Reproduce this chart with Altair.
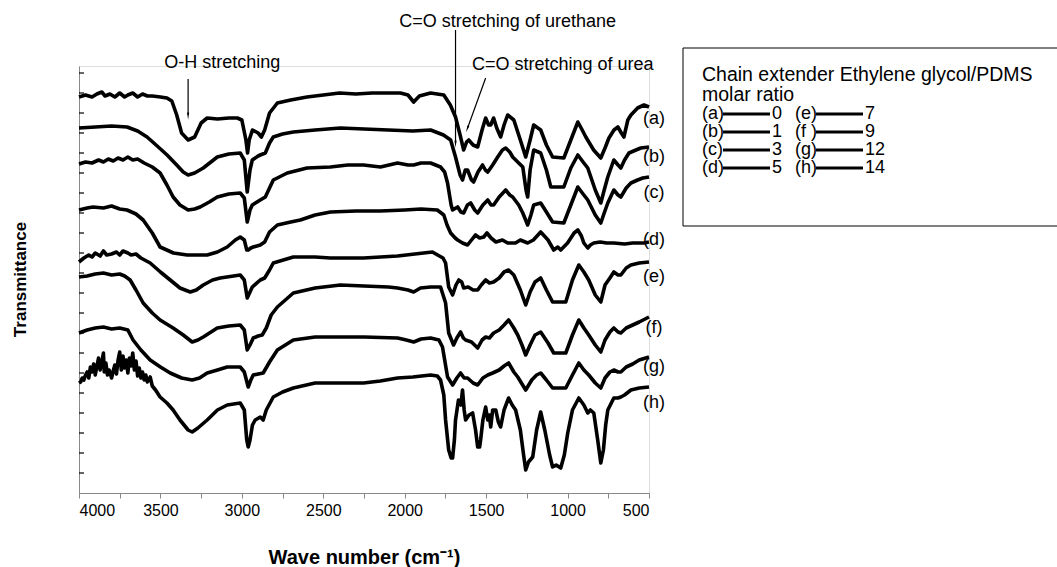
import altair as alt
import pandas as pd

# ---------------- data (wavenumber cm-1, transmittance in arbitrary offset units) ----------------
a_pts = [(4000,396),(3960,398),(3920,396),(3890,399),(3860,401),(3840,397),(3810,399),(3780,396),(3750,400),(3720,396),(3700,398),(3670,400),(3640,396),(3610,399),(3580,397),(3550,397),(3500,396),(3460,395),(3430,392),(3400,378),(3370,360),(3330,353),(3290,356),(3250,370),(3213,375),(3150,374),(3080,375),(3028,375),(3000,373),(2975,353),(2965,340),(2955,353),(2935,363),(2900,360),(2880,356),(2860,363),(2830,380),(2782,390),(2700,393),(2600,396),(2500,398),(2400,400),(2300,399),(2200,400),(2100,400),(2026,400),(1980,398),(1945,391),(1910,397),(1841,400),(1760,398),(1720,388),(1688,376),(1660,358),(1638,343),(1620,351),(1607,353),(1580,348),(1552,346),(1525,363),(1503,375),(1485,368),(1472,368),(1454,375),(1435,365),(1411,356),(1390,368),(1368,378),(1330,373),(1290,353),(1257,336),(1230,353),(1208,368),(1165,363),(1130,348),(1092,336),(1023,335),(980,353),(937,371),(910,363),(888,356),(840,343),(796,335),(770,345),(746,355),(715,363),(691,366),(670,360),(654,356),(630,373),(611,378),(570,385),(531,388),(500,386)]
b_pts = [(4000,365),(3900,366),(3800,367),(3705,366),(3640,362),(3582,356),(3520,347),(3459,338),(3400,328),(3360,321),(3330,318),(3290,320),(3237,325),(3151,336),(3080,339),(3010,340),(2985,333),(2967,301),(2950,323),(2936,333),(2900,337),(2887,338),(2856,340),(2830,350),(2807,356),(2750,359),(2684,361),(2550,363),(2395,365),(2250,364),(2100,363),(1950,362),(1841,363),(1762,358),(1718,353),(1688,336),(1660,318),(1645,313),(1628,323),(1614,323),(1590,313),(1577,311),(1550,321),(1522,328),(1505,323),(1490,321),(1460,328),(1429,336),(1400,343),(1380,345),(1355,341),(1337,336),(1300,330),(1275,326),(1255,303),(1245,296),(1230,323),(1208,343),(1165,340),(1130,323),(1103,306),(1023,306),(980,325),(937,338),(900,330),(876,325),(830,303),(796,290),(775,303),(753,316),(716,333),(690,328),(673,325),(650,333),(623,340),(580,343),(550,345),(500,346)]
c_pts = [(4000,329),(3960,331),(3920,330),(3880,333),(3850,331),(3820,334),(3790,332),(3760,335),(3730,333),(3700,336),(3670,333),(3640,334),(3600,330),(3550,326),(3502,320),(3460,308),(3422,296),(3380,288),(3330,283),(3290,284),(3256,286),(3200,291),(3151,296),(3080,299),(3010,300),(2985,295),(2967,271),(2950,283),(2936,288),(2887,293),(2856,296),(2830,305),(2807,313),(2721,320),(2600,325),(2456,326),(2350,328),(2253,328),(2149,326),(2044,330),(1980,328),(1945,328),(1900,330),(1841,330),(1780,326),(1755,321),(1737,310),(1715,288),(1706,283),(1675,286),(1655,281),(1638,280),(1615,288),(1595,290),(1570,283),(1552,280),(1520,288),(1490,293),(1470,288),(1454,288),(1420,296),(1380,303),(1355,298),(1337,296),(1300,288),(1275,280),(1245,268),(1225,278),(1208,288),(1165,290),(1130,281),(1092,271),(1023,270),(980,288),(937,306),(900,298),(876,293),(830,278),(796,270),(775,280),(753,290),(716,303),(690,298),(673,296),(640,305),(611,310),(570,313),(538,315),(500,316)]
d_pts = [(4000,283),(3950,285),(3914,286),(3850,285),(3800,287),(3750,284),(3705,283),(3650,279),(3606,273),(3550,260),(3502,246),(3420,240),(3336,238),(3213,238),(3150,241),(3090,246),(3040,253),(3010,256),(2985,253),(2970,243),(2961,243),(2945,245),(2930,246),(2887,248),(2860,251),(2830,261),(2782,268),(2700,271),(2641,273),(2550,278),(2456,281),(2300,282),(2150,282),(2000,283),(1900,284),(1800,283),(1760,278),(1740,268),(1718,260),(1690,255),(1675,253),(1645,250),(1614,248),(1590,253),(1565,258),(1540,255),(1515,256),(1495,260),(1470,255),(1440,251),(1400,253),(1368,250),(1320,250),(1290,253),(1245,250),(1210,253),(1165,261),(1120,253),(1085,243),(1060,246),(1042,243),(1000,250),(960,260),(937,263),(915,257),(900,250),(876,245),(860,248),(839,250),(800,251),(760,250),(716,250),(650,249),(600,250),(531,250),(500,251)]
e_pts = [(4000,231),(3970,235),(3940,238),(3920,236),(3900,240),(3870,237),(3850,242),(3830,238),(3800,239),(3770,241),(3750,238),(3730,242),(3700,240),(3680,238),(3650,239),(3620,235),(3563,230),(3500,221),(3440,213),(3380,205),(3317,201),(3280,203),(3237,208),(3180,213),(3133,215),(3010,218),(2985,213),(2967,195),(2950,201),(2936,206),(2887,213),(2860,215),(2830,223),(2807,230),(2684,236),(2550,236),(2456,235),(2253,235),(2044,237),(1884,240),(1830,241),(1798,238),(1765,235),(1749,230),(1730,206),(1706,198),(1685,208),(1668,213),(1650,211),(1638,205),(1610,206),(1580,203),(1552,203),(1530,208),(1503,213),(1480,210),(1454,211),(1420,215),(1390,221),(1362,223),(1330,218),(1290,203),(1257,188),(1230,201),(1200,211),(1165,215),(1130,203),(1092,191),(1011,191),(970,213),(931,228),(900,221),(870,213),(830,198),(796,191),(770,208),(740,215),(716,221),(690,218),(673,218),(640,225),(611,228),(560,230),(500,231)]
f_pts = [(4000,216),(3950,217),(3900,219),(3850,220),(3800,218),(3750,219),(3720,217),(3686,213),(3650,203),(3606,190),(3550,180),(3502,173),(3422,165),(3360,158),(3305,151),(3270,153),(3237,156),(3151,165),(3080,167),(3010,168),(2985,163),(2967,143),(2950,148),(2930,155),(2900,157),(2875,158),(2850,165),(2820,178),(2782,186),(2684,200),(2550,205),(2395,208),(2250,207),(2100,206),(2044,205),(1980,203),(1945,201),(1903,205),(1841,206),(1780,206),(1749,190),(1730,160),(1700,148),(1680,155),(1657,161),(1640,155),(1626,153),(1590,151),(1552,145),(1525,153),(1503,156),(1480,155),(1454,160),(1420,163),(1390,168),(1362,173),(1330,165),(1306,158),(1280,148),(1257,138),(1230,148),(1200,158),(1165,161),(1120,150),(1085,140),(1011,140),(970,158),(931,173),(900,165),(870,158),(830,148),(796,141),(770,153),(740,161),(716,165),(690,161),(673,160),(640,165),(600,168),(560,171),(500,176)]
g_pts = [(4000,160),(3950,163),(3900,165),(3850,166),(3800,164),(3750,165),(3700,163),(3668,153),(3620,143),(3563,133),(3500,126),(3440,120),(3370,115),(3305,113),(3260,115),(3213,120),(3150,123),(3090,126),(3010,126),(2985,121),(2961,106),(2945,113),(2930,118),(2869,120),(2830,131),(2782,143),(2684,153),(2550,156),(2456,156),(2250,156),(2044,155),(1990,153),(1945,151),(1900,154),(1841,155),(1790,153),(1768,146),(1737,116),(1706,108),(1680,115),(1657,120),(1635,115),(1614,115),(1580,110),(1552,108),(1520,115),(1490,118),(1460,120),(1420,123),(1390,127),(1362,130),(1330,121),(1306,116),(1257,103),(1220,113),(1190,118),(1165,120),(1130,113),(1092,105),(1011,105),(970,118),(931,130),(900,123),(870,118),(830,110),(796,105),(770,115),(740,121),(716,123),(690,121),(673,121),(640,126),(600,129),(560,133),(500,136)]
h_pts = [(4000,110),(3990,111),(3980,115),(3970,113),(3960,118),(3950,121),(3940,115),(3930,126),(3920,121),(3910,129),(3900,118),(3890,127),(3880,135),(3870,123),(3860,131),(3850,140),(3845,121),(3835,130),(3825,118),(3815,123),(3800,115),(3790,122),(3780,128),(3770,119),(3760,133),(3750,141),(3740,123),(3730,137),(3720,125),(3710,133),(3700,120),(3690,135),(3680,127),(3670,140),(3660,123),(3650,132),(3640,117),(3630,125),(3620,115),(3610,121),(3600,113),(3590,118),(3580,111),(3563,116),(3550,107),(3530,103),(3502,96),(3460,90),(3422,83),(3380,73),(3330,63),(3305,61),(3270,65),(3213,73),(3150,83),(3090,88),(3010,90),(2985,83),(2970,53),(2961,46),(2950,53),(2935,68),(2918,73),(2887,76),(2869,73),(2850,83),(2807,96),(2750,101),(2684,105),(2550,110),(2456,110),(2350,110),(2253,110),(2150,112),(2044,115),(1950,116),(1841,118),(1800,117),(1780,113),(1760,98),(1749,73),(1730,43),(1715,35),(1706,35),(1695,53),(1688,73),(1670,93),(1655,88),(1645,103),(1635,83),(1626,73),(1605,78),(1583,80),(1565,63),(1552,46),(1540,46),(1534,53),(1520,73),(1503,86),(1490,73),(1480,78),(1472,66),(1460,83),(1441,83),(1425,71),(1411,66),(1390,83),(1362,95),(1340,88),(1319,83),(1290,63),(1270,38),(1257,23),(1240,31),(1214,36),(1190,63),(1165,81),(1140,63),(1110,38),(1092,26),(1070,28),(1042,25),(1020,38),(999,60),(970,83),(931,95),(900,88),(876,80),(860,83),(839,80),(815,53),(796,30),(780,43),(766,68),(753,83),(716,95),(690,95),(673,96),(650,98),(611,103),(560,105),(500,106)]

curve_names = ["(a)", "(b)", "(c)", "(d)", "(e)", "(f)", "(g)", "(h)"]
curve_series = [a_pts, b_pts, c_pts, d_pts, e_pts, f_pts, g_pts, h_pts]
label_T = [374, 336, 300, 253, 216, 165, 126, 90]
label_wn = 470

legend_letters = ["(a)", "(b)", "(c)", "(d)", "(e)", "(f )", "(g)", "(h)"]
legend_ratios = ["0", "1", "3", "5", "7", "9", "12", "14"]
legend_title = ["Chain extender Ethylene glycol/PDMS", "molar ratio"]

ann_text = ["O-H stretching", "C=O stretching of urethane", "C=O stretching of urea"]
ann_wn = [3121, 1368, 1030]
ann_T = [430, 471, 428]
arrow_wn0 = [3330, 1688, 1503]
arrow_T0 = [414, 463, 415]
arrow_wn1 = [3330, 1688, 1614]
arrow_T1 = [378, 350, 365]
arrow_angle = [180, 180, 199]

x_ticks = list(range(500, 4001, 250))
y_ticks = list(range(20, 428, 20))

FONT = "Liberation Sans"
W, H = 570, 427

# ---------------- tables ----------------
rows = []
for name, pts in zip(curve_names, curve_series):
    for i, (w, t) in enumerate(pts):
        rows.append({"curve": name, "wn": w, "T": t, "i": i})
df = pd.DataFrame(rows)

xscale = alt.Scale(domain=[500, 4000], reverse=True, nice=False, zero=False)
yscale = alt.Scale(domain=[0, 427], nice=False, zero=False)

lines = alt.Chart(df).mark_line(color="black", strokeWidth=3.6, strokeJoin="round").encode(
    x=alt.X("wn:Q", scale=xscale,
            axis=alt.Axis(values=x_ticks, format="d", grid=False,
                          labelExpr="datum.value % 500 === 0 ? datum.label : ''",
                          tickSize=5, labelPadding=4, labelFontSize=16,
                          title="Wave number (cm⁻¹)", titleFontSize=20, titleFontWeight="bold",
                          titleX=285, titleY=64, titleBaseline="middle", titleAlign="center")),
    y=alt.Y("T:Q", scale=yscale,
            axis=alt.Axis(labels=False, ticks=False, grid=False,
                          title="Transmittance", titleFontSize=17, titleFontWeight="bold",
                          titleAngle=270, titleX=-59, titleY=213, titleAlign="center",
                          titleBaseline="middle")),
    detail="curve:N",
    order="i:Q",
)

# inward y ticks (as in the reference)
ytick_df = pd.DataFrame({"T": y_ticks})
yticks = alt.Chart(ytick_df).mark_rule(color="black", strokeWidth=1.2).encode(
    y=alt.Y("T:Q", scale=yscale), x=alt.value(0), x2=alt.value(5))

lab_df = pd.DataFrame({"name": curve_names, "T": label_T, "wn": [label_wn] * len(curve_names)})
labels = alt.Chart(lab_df).mark_text(font=FONT, fontSize=18, align="center", baseline="middle", color="black").encode(
    x=alt.X("wn:Q", scale=xscale), y=alt.Y("T:Q", scale=yscale), text="name:N")

ann_df = pd.DataFrame({"t": ann_text, "wn": ann_wn, "T": ann_T})
ann = alt.Chart(ann_df).mark_text(font=FONT, fontSize=18, align="center", baseline="middle", color="black").encode(
    x=alt.X("wn:Q", scale=xscale), y=alt.Y("T:Q", scale=yscale), text="t:N")

arr_df = pd.DataFrame({"w0": arrow_wn0, "t0": arrow_T0, "w1": arrow_wn1, "t1": arrow_T1, "ang": arrow_angle})
shafts = alt.Chart(arr_df).mark_rule(color="black", strokeWidth=1.2).encode(
    x=alt.X("w0:Q", scale=xscale), x2="w1:Q", y=alt.Y("t0:Q", scale=yscale), y2="t1:Q")
heads = alt.Chart(arr_df).mark_point(shape="wedge", filled=True, color="black", size=70, opacity=1).encode(
    x=alt.X("w1:Q", scale=xscale), y=alt.Y("t1:Q", scale=yscale), angle=alt.Angle("ang:Q", scale=None))

# ---------------- legend box (drawn by hand, pixel layout) ----------------
one = pd.DataFrame({"k": [0]})
LX, LY = 604, -18
HFS, RFS = 19.5, 18
leg_layers = [
    alt.Chart(one).mark_rect(filled=False, stroke="black", strokeWidth=1).encode(
        x=alt.value(LX), x2=alt.value(LX + 400), y=alt.value(LY), y2=alt.value(LY + 178))
]
for k, t in enumerate(legend_title):
    leg_layers.append(alt.Chart(one).mark_text(font=FONT, fontSize=HFS, align="left", baseline="middle", color="black").encode(
        x=alt.value(LX + 19), y=alt.value(LY + 27 + 20 * k), text=alt.value(t)))
for k, (lt, rv) in enumerate(zip(legend_letters, legend_ratios)):
    col, row = divmod(k, 4)
    x0 = LX + 19 + col * 93
    y0 = LY + 66 + 18 * row
    leg_layers.append(alt.Chart(one).mark_text(font=FONT, fontSize=RFS, align="left", baseline="middle", color="black").encode(
        x=alt.value(x0), y=alt.value(y0), text=alt.value(lt)))
    leg_layers.append(alt.Chart(one).mark_rule(color="black", strokeWidth=3).encode(
        x=alt.value(x0 + 21), x2=alt.value(x0 + 68), y=alt.value(y0)))
    leg_layers.append(alt.Chart(one).mark_text(font=FONT, fontSize=RFS, align="left", baseline="middle", color="black").encode(
        x=alt.value(x0 + 70), y=alt.value(y0), text=alt.value(rv)))

chart = alt.layer(lines, yticks, labels, ann, shafts, heads, *leg_layers).properties(
    width=W, height=H,
    autosize=alt.AutoSizeParams(type="none"),
    padding={"left": 79, "top": 66, "right": 408, "bottom": 74},
).configure_view(stroke=None).configure_axis(
    grid=False, domainColor="black", domainWidth=1.5, tickColor="black", tickWidth=1.2,
    labelColor="black", labelFont=FONT, titleFont=FONT, titleColor="black",
).configure(background="white")

chart.save("out.html", embed_options={"renderer": "svg", "actions": False})
